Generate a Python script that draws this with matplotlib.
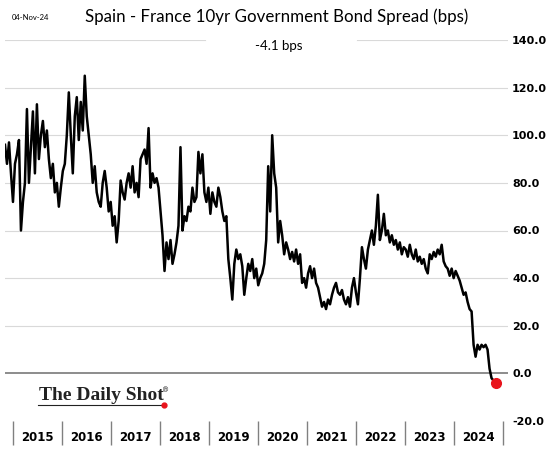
import matplotlib
matplotlib.use("Agg")
import matplotlib.pyplot as plt
import matplotlib.dates as mdates
import pandas as pd
import numpy as np
from matplotlib.lines import Line2D

# ---- data (~2-week steps) ----
spread_bps = [
    96, 88, 97, 84, 72, 88, 92, 98, 60, 72, 80, 111, 80, 95, 110, 84, 113, 90, 100, 106,
    95, 102, 90, 82, 88, 76, 80, 70, 78, 85, 88, 100, 118, 100, 84, 108, 116, 98, 114, 102,
    125, 108, 100, 92, 80, 87, 76, 72, 70, 80, 85, 78, 68, 72, 62, 66, 55, 64, 81, 76,
    73, 80, 84, 78, 87, 76, 80, 74, 90, 92, 94, 88, 103, 78, 84, 80, 82, 78, 68, 58,
    43, 55, 48, 56, 46, 50, 55, 62, 95, 60, 66, 64, 70, 68, 78, 72, 74, 93, 84, 92,
    76, 72, 78, 67, 76, 72, 70, 78, 74, 68, 64, 66, 48, 40, 31, 46, 52, 48, 50, 45,
    33, 40, 46, 43, 48, 40, 44, 37, 40, 42, 46, 56, 87, 68, 100, 84, 78, 55, 64, 58,
    50, 55, 52, 48, 51, 47, 52, 46, 50, 38, 40, 36, 42, 45, 40, 44, 38, 36, 32, 28,
    30, 27, 31, 29, 33, 36, 38, 34, 33, 35, 31, 29, 32, 28, 36, 40, 34, 29, 40, 53,
    48, 44, 52, 56, 60, 54, 62, 75, 56, 60, 67, 58, 60, 55, 58, 54, 56, 52, 55, 50,
    53, 52, 49, 54, 50, 48, 52, 47, 49, 46, 48, 44, 42, 50, 48, 51, 49, 52, 50, 54,
    47, 45, 44, 41, 44, 40, 43, 41, 39, 36, 33, 34, 30, 27, 26, 12, 7, 12, 10, 12,
    11, 12, 10, 2, -2, -3, -4.1,
]
start_date = "2014-11-01"
end_date = "2024-11-04"
y_ticks = [-20, 0, 20, 40, 60, 80, 100, 120, 140]
year_labels = [str(y) for y in range(2015, 2025)]

title = "Spain - France 10yr Government Bond Spread (bps)"
subtitle = "-4.1 bps"
date_stamp = "04-Nov-24"

dates = pd.date_range(start_date, end_date, periods=len(spread_bps))

fig = plt.figure(figsize=(5.58, 4.54), dpi=100)
ax = fig.add_axes([5 / 558, 1 - 421 / 454, 503 / 558, 381 / 454])

ax.set_xlim(pd.Timestamp("2014-11-01"), pd.Timestamp("2025-02-05"))
ax.set_ylim(-20, 140)

# gridlines
for v in y_ticks[2:-1]:
    ax.axhline(v, color="#d9d9d9", lw=0.8, zorder=0)
ax.axhline(140, xmin=0, xmax=(205 - 5) / 503, color="#d9d9d9", lw=0.8, zorder=0)
ax.axhline(140, xmin=(357 - 5) / 503, xmax=1, color="#d9d9d9", lw=0.8, zorder=0)
ax.axhline(0, color="#8c8c8c", lw=1.4, zorder=1)

ax.plot(dates, spread_bps, color="black", lw=1.8, zorder=3)
ax.plot(dates[-1], spread_bps[-1], "o", color="#e8141c", ms=7, zorder=4)

for s in ax.spines.values():
    s.set_visible(False)

ax.yaxis.tick_right()
ax.set_yticks(y_ticks)
ax.set_yticklabels([f"{v:.1f}" for v in y_ticks], fontweight="bold", fontsize=8)
ax.tick_params(axis="y", length=0, pad=3)

ax.xaxis.set_minor_locator(mdates.YearLocator(1, month=1, day=1))
ax.set_xticks(pd.to_datetime([f"{y}-07-02" for y in year_labels]))
ax.set_xticklabels(year_labels, fontweight="bold", fontsize=8.5)
ax.tick_params(axis="x", which="major", length=0, pad=7)
ax.tick_params(axis="x", which="minor", length=17, width=1, color="#808080", direction="out")

fig.text(277 / 558, 1 - 17 / 454, title, ha="center", va="center", fontsize=12.2, family="Lato")
fig.text(279 / 558, 1 - 46 / 454, subtitle, ha="center", va="center", fontsize=9.5, family="Lato")
fig.text(30 / 558, 1 - 17 / 454, date_stamp, ha="center", va="center", fontsize=5.5, family="Lato")

# logo
fig.text(101 / 558, 1 - 396 / 454, "The Daily Shot", ha="center", va="center",
         fontsize=14, family="Liberation Serif", fontweight="bold", color="#222222")
fig.text(166 / 558, 1 - 390 / 454, "®", ha="center", va="center", fontsize=5, family="DejaVu Serif")
fig.add_artist(Line2D([38 / 558, 163 / 558], [1 - 405 / 454, 1 - 405 / 454], color="#222222", lw=0.8))
fig.add_artist(Line2D([164 / 558], [1 - 405 / 454], marker="o", color="#e8141c", ms=3.5))

fig.savefig("out.png", dpi=100)
